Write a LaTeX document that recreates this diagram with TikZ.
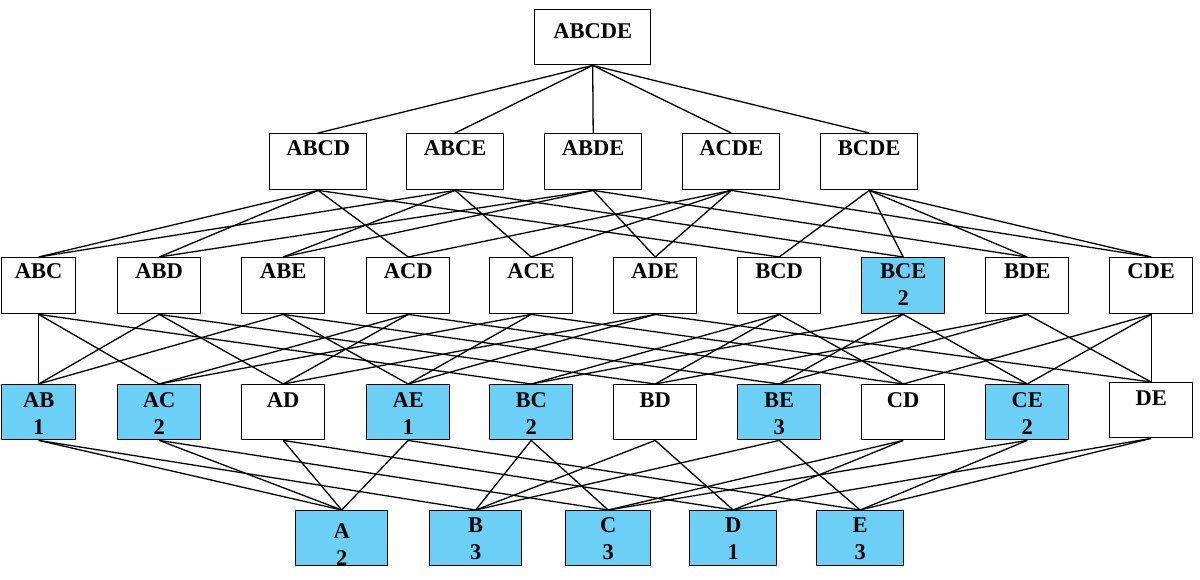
\documentclass[tikz,border=0pt]{standalone}
\usepackage{fontspec}
\setmainfont{Liberation Serif}
\definecolor{boxblue}{RGB}{108,207,246}
\newcommand{\cell}[4]{\parbox[t][#2pt][t]{#1pt}{\centering\rule{0pt}{#3pt}#4}}
\begin{document}
\begin{tikzpicture}[x=1pt,y=-1pt,
  box/.style={draw, line width=1.4pt, inner sep=0pt, anchor=north west, fill=white,
    font=\fontsize{22.5}{27}\selectfont\bfseries},
  hit/.style={box, fill=boxblue},
  edge/.style={line width=1.3pt}]
\useasboundingbox (0,0) rectangle (1200,580);
% level 0
\node[box] (ABCDE) at (534,9) {\cell{116}{55}{29}{ABCDE}};
% level 1
\foreach \n/\x in {ABCD/269,ABCE/406,ABDE/544,ACDE/682,BCDE/820}
  \node[box] (\n) at (\x,133) {\cell{97}{56}{22}{\n}};
% level 2
\node[box] (ABC) at (1,257) {\cell{74}{56}{21}{ABC}};
\foreach \n/\x in {ABD/117,ABE/241,ACD/366,ACE/489,ADE/613,BCD/737,BDE/985,CDE/1109}
  \node[box] (\n) at (\x,257) {\cell{83}{56}{21}{\n}};
\node[hit] (BCE) at (861,257) {\cell{83}{56}{21}{BCE\\2}};
% level 3
\node[hit] (AB) at (1,384) {\cell{74}{55}{23}{AB\\1}};
\node[hit] (AC) at (117,384) {\cell{83}{55}{23}{AC\\2}};
\node[box] (AD) at (241,384) {\cell{83}{55}{23}{AD}};
\node[hit] (AE) at (366,384) {\cell{83}{55}{23}{AE\\1}};
\node[hit] (BC) at (489,384) {\cell{83}{55}{23}{BC\\2}};
\node[box] (BD) at (613,384) {\cell{83}{55}{23}{BD}};
\node[hit] (BE) at (737,384) {\cell{83}{55}{23}{BE\\3}};
\node[box] (CD) at (861,384) {\cell{83}{55}{23}{CD}};
\node[hit] (CE) at (985,384) {\cell{83}{55}{23}{CE\\2}};
\node[box] (DE) at (1109,382) {\cell{83}{55}{23}{DE}};
% level 4
\node[hit] (A) at (295,510) {\cell{92}{55}{28}{A\\2}};
\node[hit] (B) at (429,510) {\cell{92}{55}{22}{B\\3}};
\node[hit] (C) at (565,510) {\cell{85}{55}{22}{C\\3}};
\node[hit] (D) at (689,510) {\cell{87}{55}{22}{D\\1}};
\node[hit] (E) at (816,510) {\cell{87}{55}{22}{E\\3}};
% edges
\foreach \a/\b in {ABCDE/ABCD,ABCDE/ABCE,ABCDE/ABDE,ABCDE/ACDE,ABCDE/BCDE,
  ABCD/ABC,ABCD/ABD,ABCD/ACD,ABCD/BCD,
  ABCE/ABC,ABCE/ABE,ABCE/ACE,ABCE/BCE,
  ABDE/ABD,ABDE/ABE,ABDE/ADE,ABDE/BDE,
  ACDE/ACD,ACDE/ACE,ACDE/ADE,ACDE/CDE,
  BCDE/BCD,BCDE/BCE,BCDE/BDE,BCDE/CDE,
  ABC/AB,ABC/AC,ABC/BC, ABD/AB,ABD/AD,ABD/BD, ABE/AB,ABE/AE,ABE/BE,
  ACD/AC,ACD/AD,ACD/CD, ACE/AC,ACE/AE,ACE/CE, ADE/AD,ADE/AE,ADE/DE,
  BCD/BC,BCD/BD,BCD/CD, BCE/BC,BCE/BE,BCE/CE, BDE/BD,BDE/BE,BDE/DE,
  CDE/CD,CDE/CE,CDE/DE,
  AB/A,AB/B,AC/A,AC/C,AD/A,AD/D,AE/A,AE/E,BC/B,BC/C,BD/B,BD/D,BE/B,BE/E,
  CD/C,CD/D,CE/C,CE/E,DE/D,DE/E}
  \draw[edge] (\a.south) -- (\b.north);
\end{tikzpicture}
\end{document}
